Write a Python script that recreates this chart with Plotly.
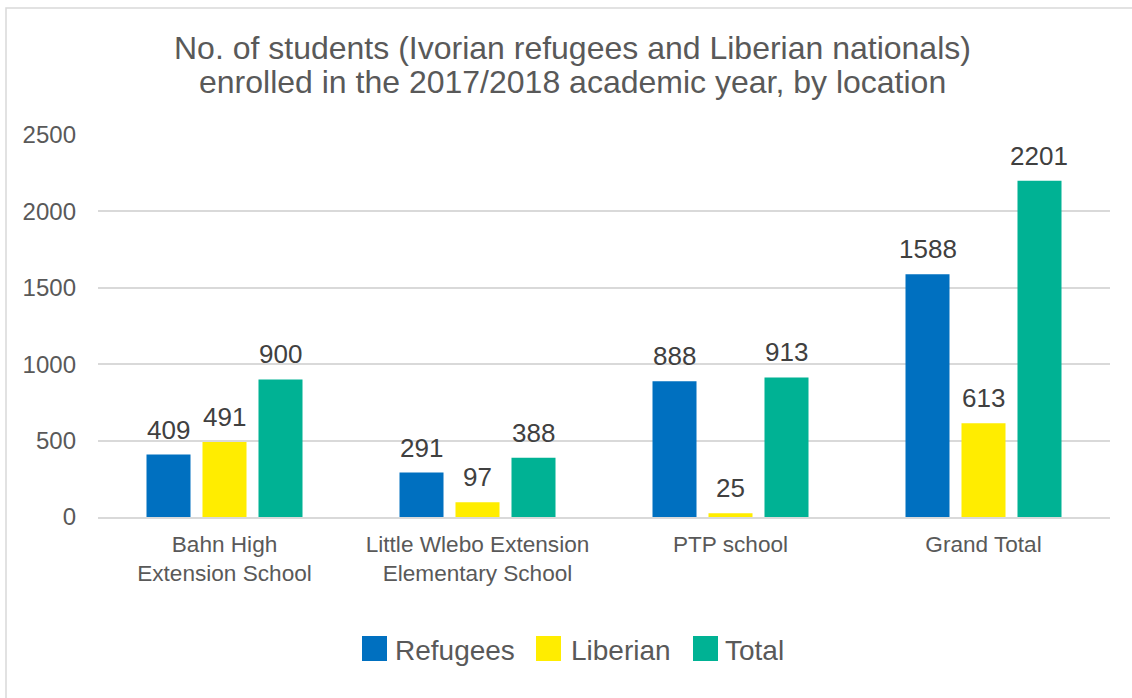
import plotly.graph_objects as go

categories = ["Bahn High<br>Extension School", "Little Wlebo Extension<br>Elementary School", "PTP school", "Grand Total"]
series_names = ["Refugees", "Liberian", "Total"]
refugees = [409, 291, 888, 1588]
liberian = [491, 97, 25, 613]
total = [900, 388, 913, 2201]
y_ticks = [0, 500, 1000, 1500, 2000, 2500]
colors = ["#0070C0", "#FFED00", "#00B294"]
title_lines = ["No. of students (Ivorian refugees and Liberian nationals)",
               "enrolled in the 2017/2018 academic year, by location"]

font_family = "Liberation Sans, Arial, sans-serif"
text_color = "#595959"
label_color = "#404040"

W, H = 1132, 698
ML, MR, MT, MB = 98, 22, 135, 181
PW, PH = W - ML - MR, H - MT - MB
BARGAP, BARGROUPGAP = 0.336, 0.214


def px_x(X):
    return (X - ML) / PW


def px_y(Y):
    return (H - MB - Y) / PH


fig = go.Figure()
all_vals = [refugees, liberian, total]
for name, vals, color in zip(series_names, all_vals, colors):
    fig.add_trace(go.Bar(name=name, x=categories, y=vals, marker_color=color,
                         marker_line_width=0, showlegend=False))

annotations = []
# data labels above bars
slot = PW / len(categories) * (1 - BARGAP) / len(series_names)
for i, vals in enumerate(all_vals):
    off = (i - (len(series_names) - 1) / 2) * slot
    for c, v in zip(categories, vals):
        annotations.append(dict(
            x=c, y=v, xref="x", yref="y", text=str(v), showarrow=False,
            xshift=off, yshift=25, xanchor="center", yanchor="middle",
            font=dict(size=26, color=label_color, family=font_family)))

# title lines
for line, Y in zip(title_lines, [48, 82]):
    annotations.append(dict(
        x=px_x(572), y=px_y(Y), xref="paper", yref="paper", text=line,
        showarrow=False, xanchor="center", yanchor="middle",
        font=dict(size=32, color=text_color, family=font_family)))

# manual legend
shapes = []
legend_sw_x = [362, 536, 693]
legend_tx_x = [393, 569, 723]
for name, color, sx, tx in zip(series_names, colors, legend_sw_x, legend_tx_x):
    shapes.append(dict(type="rect", xref="paper", yref="paper",
                       x0=px_x(sx), x1=px_x(sx + 25), y0=px_y(661), y1=px_y(636),
                       fillcolor=color, line=dict(width=0)))
    annotations.append(dict(
        x=px_x(tx), y=px_y(650), xref="paper", yref="paper", text=name,
        showarrow=False, xanchor="left", yanchor="middle",
        font=dict(size=28, color=text_color, family=font_family)))

# chart border
shapes.append(dict(type="rect", xref="paper", yref="paper",
                   x0=px_x(6), x1=px_x(1140), y0=px_y(705), y1=px_y(8),
                   line=dict(color="#D9D9D9", width=1.5), fillcolor="rgba(0,0,0,0)",
                   layer="below"))

fig.update_layout(
    width=W, height=H,
    margin=dict(l=ML, r=MR, t=MT, b=MB, autoexpand=False),
    paper_bgcolor="white", plot_bgcolor="white",
    barmode="group", bargap=BARGAP, bargroupgap=BARGROUPGAP,
    font=dict(family=font_family, color=text_color),
    showlegend=False,
    annotations=annotations,
    shapes=shapes,
)
fig.update_yaxes(
    range=[0, 2500], tickvals=y_ticks, showgrid=True, gridcolor="#D9D9D9", gridwidth=1.5,
    zeroline=False, showline=False, ticks="", ticklabelstandoff=21,
    tickfont=dict(size=24, color=text_color, family=font_family),
)
fig.update_xaxes(
    showline=True, linecolor="#D9D9D9", linewidth=1.5, ticks="", ticklabelstandoff=6,
    tickfont=dict(size=22.6, color=text_color, family=font_family),
)

fig.write_html("out.html", config={"displayModeBar": False},
               post_script="document.body.style.margin='0px';")
